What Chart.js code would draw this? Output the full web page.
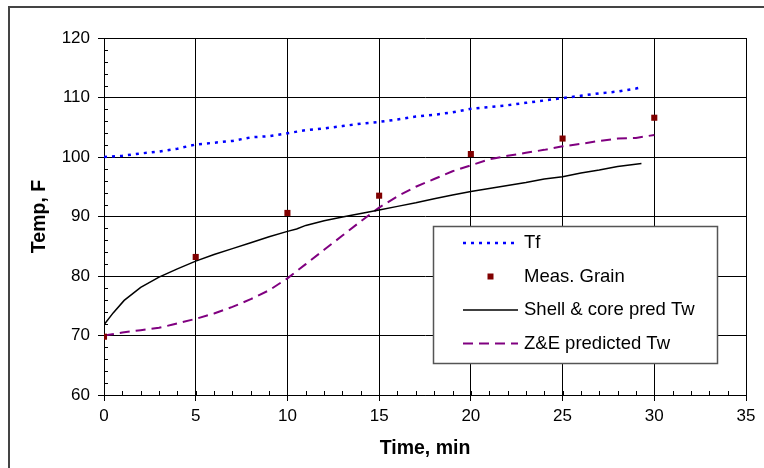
<!DOCTYPE html>
<html>
<head>
<meta charset="utf-8">
<script src="https://cdn.jsdelivr.net/npm/chart.js@4"></script>
<style>
    html, body { margin: 0; padding: 0; background: #fff; }
    #wrap { position: relative; width: 764px; height: 468px; }
    #frame { position: absolute; left: 8px; top: 6px; right: -4px; bottom: -4px; border-left: 2px solid #444; border-top: 2px solid #444; }
    canvas { position: absolute; left: 0; top: 0; }
</style>
</head>
<body>
<div id="wrap">
    <div id="frame"></div>
    <canvas id="chart" width="764" height="468"></canvas>
</div>
<script>
// =========================
// Data
// =========================
const tfTime = [0, 1, 2, 3, 4, 5, 6, 7, 8, 9, 10, 11, 12, 13, 14, 15, 16, 17, 18, 19, 20, 21, 22, 23, 24, 25, 26, 27, 28, 29, 29.3];
const tfTemp = [100.0, 100.2, 100.6, 100.9, 101.4, 102.1, 102.4, 102.7, 103.3, 103.5, 104.0, 104.5, 104.8, 105.2, 105.6, 105.9, 106.3, 106.8, 107.1, 107.5, 108.1, 108.4, 108.7, 109.1, 109.5, 109.9, 110.3, 110.7, 111.0, 111.5, 111.7];

const grainTime = [0, 5, 10, 15, 20, 25, 30];
const grainTemp = [69.8, 83.2, 90.6, 93.5, 100.5, 103.1, 106.6];

const shellTime = [0, 0.5, 1.1, 2, 3, 4, 5, 6, 7, 8, 9, 10, 10.5, 11, 12, 13, 14, 15, 16, 17, 18, 19, 20, 21, 22, 23, 24, 25, 26, 27, 28, 29.3];
const shellTemp = [71.8, 73.8, 75.9, 78.1, 79.8, 81.2, 82.5, 83.6, 84.6, 85.6, 86.6, 87.5, 87.9, 88.5, 89.3, 89.9, 90.5, 91.1, 91.7, 92.3, 93.0, 93.6, 94.2, 94.7, 95.2, 95.7, 96.3, 96.7, 97.3, 97.8, 98.4, 98.9];

const zeTime = [0, 1, 2, 3, 3.7, 5, 6, 7, 8, 9, 10, 11, 12, 13, 14, 15, 16, 17, 18, 19, 20, 21, 22, 23, 24, 25, 26, 27, 28, 29, 30];
const zeTemp = [70.0, 70.5, 70.9, 71.3, 71.8, 72.8, 73.7, 74.8, 76.1, 77.6, 79.6, 82.0, 84.4, 86.8, 89.2, 91.5, 93.4, 95.0, 96.3, 97.6, 98.6, 99.6, 100.2, 100.7, 101.2, 101.8, 102.2, 102.7, 103.1, 103.2, 103.7];

const xTicks = [0, 5, 10, 15, 20, 25, 30, 35];
const yTicks = [60, 70, 80, 90, 100, 110, 120];

const FONT = "'Liberation Sans', Arial, sans-serif";

function toPoints(xs, ys) {
    return xs.map((x, i) => ({ x: x, y: ys[i] }));
}

// =========================
// Minor tick marks (inside the axes)
// =========================
const minorTicks = {
    id: "minorTicks",
    afterDraw(chart) {
        const ctx = chart.ctx;
        const xs = chart.scales.x;
        const ys = chart.scales.y;
        const area = chart.chartArea;
        ctx.save();
        ctx.strokeStyle = "#000";
        ctx.lineWidth = 1;
        ctx.beginPath();
        for (let v = 62; v < 120; v += 2) {
            if (v % 10 === 0) continue;
            const py = Math.round(ys.getPixelForValue(v)) + 0.5;
            ctx.moveTo(area.left, py);
            ctx.lineTo(area.left + 4, py);
        }
        for (let v = 1; v < 35; v++) {
            const px = Math.round(xs.getPixelForValue(v)) + 0.5;
            ctx.moveTo(px, area.bottom);
            ctx.lineTo(px, area.bottom - 4);
        }
        ctx.stroke();
        ctx.restore();
    }
};

// =========================
// Boxed legend inside the plot
// =========================
const boxLegend = {
    id: "boxLegend",
    afterDraw(chart, args, opts) {
        const ctx = chart.ctx;
        const b = opts.box;
        ctx.save();
        ctx.fillStyle = "#fff";
        ctx.fillRect(b.x, b.y, b.w, b.h);
        ctx.strokeStyle = "#555";
        ctx.lineWidth = 1.5;
        ctx.strokeRect(b.x + 0.5, b.y + 0.5, b.w, b.h);

        ctx.font = "18.5px " + FONT;
        ctx.textBaseline = "middle";
        chart.data.datasets.forEach((ds, i) => {
            const cy = b.y + 17 + i * 33.5;
            const x0 = b.x + 30;
            const x1 = b.x + 85;
            if (ds.showLine === false) {
                ctx.fillStyle = ds.backgroundColor;
                ctx.fillRect((x0 + x1) / 2 - 3, cy - 3, 6, 6);
            } else {
                ctx.strokeStyle = ds.borderColor;
                ctx.lineWidth = ds.borderWidth;
                ctx.setLineDash(ds.borderDash || []);
                ctx.beginPath();
                ctx.moveTo(x0, cy);
                ctx.lineTo(x1, cy);
                ctx.stroke();
                ctx.setLineDash([]);
            }
            ctx.fillStyle = "#000";
            ctx.fillText(ds.label, b.x + 91, cy);
        });
        ctx.restore();
    }
};

const chartCanvas = document.getElementById("chart");

new Chart(chartCanvas, {

    type: "scatter",

    data: {
        datasets: [
            {
                label: "Tf",
                data: toPoints(tfTime, tfTemp),
                showLine: true,
                borderColor: "#0000ff",
                borderWidth: 2.5,
                borderDash: [3, 5],
                pointRadius: 0
            },
            {
                label: "Meas. Grain",
                data: toPoints(grainTime, grainTemp),
                showLine: false,
                backgroundColor: "#800000",
                borderColor: "#800000",
                pointStyle: "rect",
                pointRadius: 4.3,
                borderWidth: 0
            },
            {
                label: "Shell & core pred Tw",
                data: toPoints(shellTime, shellTemp),
                showLine: true,
                borderColor: "#000000",
                borderWidth: 1.5,
                pointRadius: 0
            },
            {
                label: "Z&E predicted Tw",
                data: toPoints(zeTime, zeTemp),
                showLine: true,
                borderColor: "#800080",
                borderWidth: 2,
                borderDash: [10, 6],
                pointRadius: 0
            }
        ]
    },

    options: {

        responsive: false,

        animation: false,

        layout: {
            padding: { left: 22, top: 38, right: 18, bottom: 0 }
        },

        plugins: {
            legend: { display: false },
            tooltip: { enabled: false },
            boxLegend: {
                box: { x: 433, y: 226, w: 284, h: 137 }
            }
        },

        scales: {
            x: {
                type: "linear",
                min: 0,
                max: 35,
                afterFit: (scale) => { scale.height = 73; },
                afterBuildTicks: (scale) => { scale.ticks = xTicks.map(v => ({ value: v })); },
                grid: {
                    color: "#000",
                    lineWidth: 1,
                    tickLength: 6,
                    tickColor: "#000"
                },
                border: { display: true, color: "#000", width: 1 },
                ticks: {
                    color: "#000",
                    font: { family: FONT, size: 17 },
                    padding: 5,
                    maxRotation: 0
                },
                title: {
                    display: true,
                    text: "Time, min",
                    color: "#000",
                    font: { family: FONT, size: 19.5, weight: "bold" },
                    padding: { top: 0, bottom: 8 }
                }
            },
            y: {
                type: "linear",
                min: 60,
                max: 120,
                afterFit: (scale) => { scale.width = 82; },
                afterBuildTicks: (scale) => { scale.ticks = yTicks.map(v => ({ value: v })); },
                grid: {
                    color: "#000",
                    lineWidth: 1,
                    tickLength: 6,
                    tickColor: "#000"
                },
                border: { display: true, color: "#000", width: 1 },
                ticks: {
                    color: "#000",
                    font: { family: FONT, size: 17 },
                    padding: 8
                },
                title: {
                    display: true,
                    text: "Temp, F",
                    color: "#000",
                    font: { family: FONT, size: 19.5, weight: "bold" },
                    padding: { top: 6, bottom: 0 }
                }
            }
        }
    },

    plugins: [minorTicks, boxLegend]
});
</script>
</body>
</html>
